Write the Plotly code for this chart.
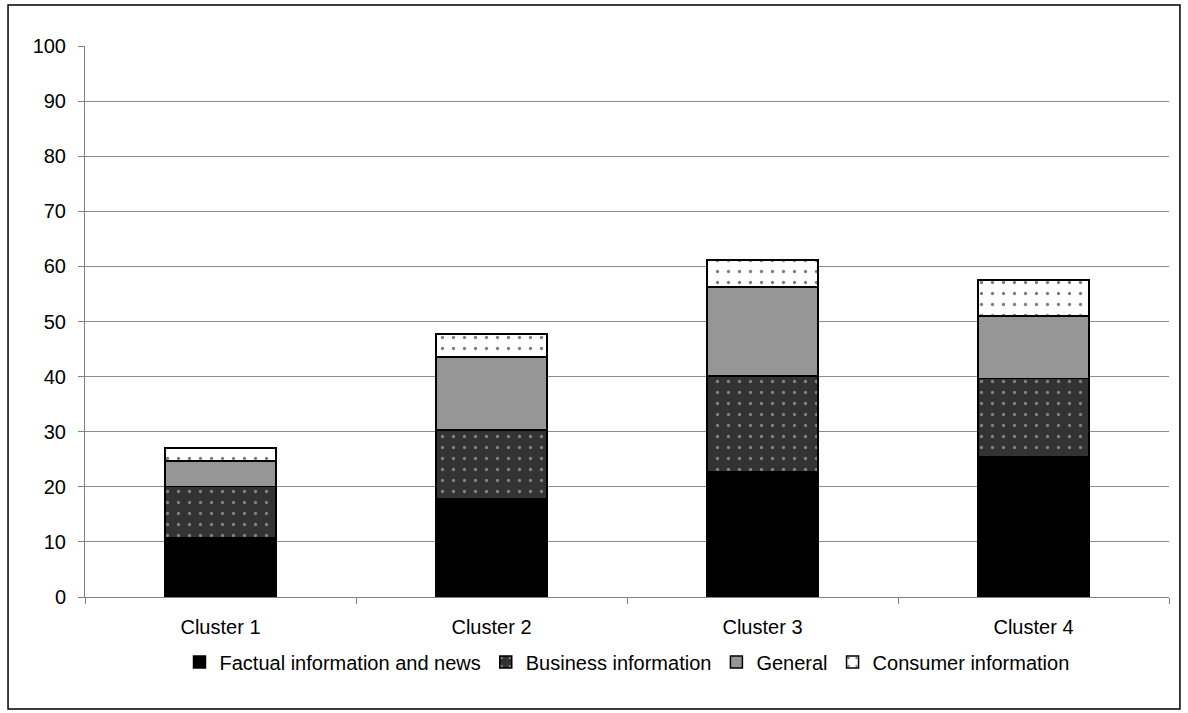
import plotly.graph_objects as go

clusters = ["Cluster 1", "Cluster 2", "Cluster 3", "Cluster 4"]
factual = [10.7, 17.8, 22.7, 25.4]
business = [9.4, 12.5, 17.4, 14.3]
general = [4.6, 13.3, 16.2, 11.3]
consumer = [2.3, 4.1, 4.9, 6.5]

series = [
    ("Factual information and news", factual, "black", None),
    ("Business information", business, "#333333", "#d0d0d0"),
    ("General", general, "#969696", None),
    ("Consumer information", consumer, "white", "black"),
]

fig = go.Figure()
for name, vals, color, dots in series:
    pattern = dict(shape=".", fgcolor=dots, bgcolor=color, size=11, solidity=0.07) if dots else None
    fig.add_trace(go.Bar(
        x=clusters, y=vals, name=name,
        marker=dict(color=color, line=dict(color="black", width=1.5), pattern=pattern),
    ))

fig.update_layout(
    barmode="stack",
    bargap=0.59,
    width=1188, height=713,
    margin=dict(l=85, r=19, t=46, b=116),
    paper_bgcolor="white", plot_bgcolor="white",
    font=dict(family="Liberation Sans, Arial, sans-serif", size=20, color="black"),
    legend=dict(orientation="h", x=0.5, xanchor="center", y=-0.118, yanchor="middle",
                font=dict(size=20), traceorder="normal", itemwidth=30),
    shapes=[dict(type="rect", xref="paper", yref="paper", x0=-0.071, x1=1.0101,
                 y0=-0.2033, y1=1.0744, line=dict(color="black", width=1.5))],
)
fig.update_yaxes(range=[0, 100], dtick=10, showgrid=True, gridcolor="#8c8c8c", gridwidth=1,
                 showline=True, linecolor="#808080", ticks="outside", ticklen=6,
                 tickcolor="#808080", zeroline=False, ticklabelstandoff=8)
fig.update_xaxes(showline=True, linecolor="#808080", ticks="outside", ticklen=6,
                 tickcolor="#808080", tickson="boundaries", ticklabelstandoff=12)

fig.write_html("out.html", config={"displayModeBar": False},
               post_script="document.body.style.margin='0';")
